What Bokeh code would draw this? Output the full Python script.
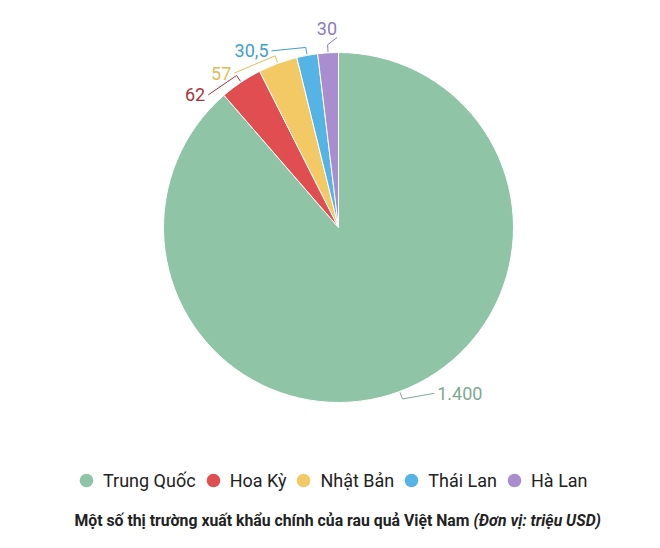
import numpy as np
from bokeh.plotting import figure
from bokeh.models import ColumnDataSource, Range1d, Legend, LegendItem
from bokeh.core.properties import value
from bokeh.embed import file_html
from bokeh.resources import INLINE

# Dữ liệu: thị trường xuất khẩu rau quả (triệu USD)
countries = ["Trung Quốc", "Hoa Kỳ", "Nhật Bản", "Thái Lan", "Hà Lan"]
values = [1400, 62, 57, 30.5, 30]
labels = ["1.400", "62", "57", "30,5", "30"]

colors = ["#8fc4a7", "#e04e52", "#f2c965", "#56b3e6", "#a98dce"]
label_colors = ["#7ea893", "#a8343b", "#e3bc55", "#3d9fd0", "#8e7bb7"]

# vi tri nhan (chi la bo cuc)
label_shift = [10.3, 11.3, 14.5, 11.3, -3.0]
label_radius = [193, 188, 188, 190, 199]
label_side = ["left", "right", "right", "right", "top"]

W, H = 644, 532
CX, CY, R = 338, H - 227, 175

vals = np.array(values, dtype=float)
frac = vals / vals.sum()
cum = np.concatenate([[0], np.cumsum(frac)])
start = np.pi / 2 - cum[:-1] * 2 * np.pi
end = np.pi / 2 - cum[1:] * 2 * np.pi
mid = (start + end) / 2

source = ColumnDataSource(data=dict(countries=countries, values=values,
                                    start=start, end=end, colors=colors))

p = figure(width=W, height=H, x_range=Range1d(0, W), y_range=Range1d(0, H),
           output_backend="svg", toolbar_location=None, min_border=0)
p.axis.visible = False
p.grid.visible = False
p.outline_line_color = None

p.wedge(x=CX, y=CY, radius=R, start_angle="start", end_angle="end", direction="clock",
        fill_color="colors", line_color="white", line_width=1, source=source)

# nhan va duong noi
xs, ys = [], []
for i, lab in enumerate(labels):
    a = mid[i]
    la = a + np.deg2rad(label_shift[i])
    ax = CX + label_radius[i] * np.cos(la)
    ay = CY + label_radius[i] * np.sin(la)
    p0 = (CX + (R + 1) * np.cos(a), CY + (R + 1) * np.sin(a))
    p1 = (CX + (R + 8) * np.cos(a), CY + (R + 8) * np.sin(a))
    if label_side[i] == "left":
        p2 = (ax - 3, ay)
        align = "left"
    elif label_side[i] == "right":
        p2 = (ax + 3, ay)
        align = "right"
    else:
        p2 = (ax, ay - 9)
        align = "right"
    xs.append([p0[0], p1[0], p2[0]])
    ys.append([p0[1], p1[1], p2[1]])
    p.text(x=[ax], y=[ay], text=[lab], text_align=align, text_baseline="middle",
           text_font=value("Roboto"), text_font_size="18px", text_color=label_colors[i])

p.multi_line(xs=xs, ys=ys, line_color=label_colors, line_width=1)

# chu thich
items = []
for c, col in zip(countries, colors):
    r = p.scatter(x=[-1000], y=[-1000], size=13.5, marker="circle",
                  fill_color=col, line_color=None)
    items.append(LegendItem(label=c, renderers=[r]))

legend = Legend(items=items, orientation="horizontal", location=(69, 35),
                label_text_font="Roboto", label_text_font_size="18px",
                label_text_color="#222222", glyph_width=34, glyph_height=34,
                label_standoff=0, spacing=0, padding=0, margin=0,
                border_line_color=None, background_fill_alpha=0)
p.add_layout(legend)

# tieu de duoi
cap_y = H - 520
p.text(x=[469], y=[cap_y], text=["Một số thị trường xuất khẩu chính của rau quả Việt Nam"],
       text_align="right", text_baseline="middle", text_font=value("Roboto"),
       text_font_size="15.8px", text_font_style="bold", text_color="#222222")
p.text(x=[473], y=[cap_y], text=["(Đơn vị: triệu USD)"],
       text_align="left", text_baseline="middle", text_font=value("Roboto"),
       text_font_size="15.8px", text_font_style="bold italic", text_color="#222222")

open("out.html", "w").write(file_html(p, INLINE))
